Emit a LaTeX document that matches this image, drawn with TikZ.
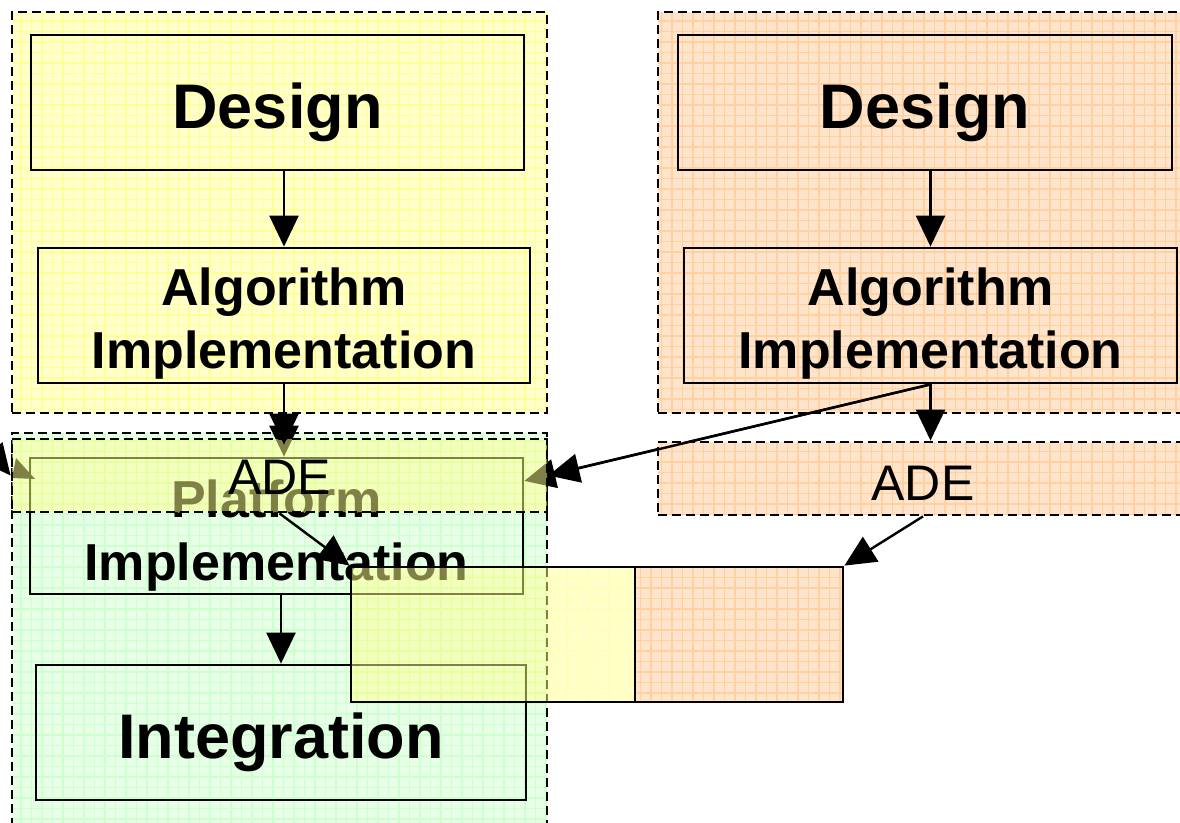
\documentclass[tikz,border=0pt]{standalone}
\usepackage{fontspec}
\setmainfont{Liberation Sans}
\usetikzlibrary{arrows.meta,calc}

\definecolor{yfill}{RGB}{255,255,204}
\definecolor{ygrid}{RGB}{255,255,150}
\definecolor{ofill}{RGB}{255,228,204}
\definecolor{ogrid}{RGB}{255,208,160}
\definecolor{gfill}{RGB}{230,255,230}
\definecolor{ggrid}{RGB}{206,255,206}
\definecolor{yover}{RGB}{255,255,150}
\definecolor{yovergrid}{RGB}{255,255,110}

% squared-paper patch: fill colour, grid colour, two corners
\newcommand{\gridpatch}[4]{%
  \begin{scope}
    \clip (#3) rectangle (#4);
    \fill[#1] (#3) rectangle (#4);
    \foreach \gx in {0,10.5,...,1200} \draw[#2, line width=1.3pt] (\gx,0) -- (\gx,840);
    \foreach \gy in {0,10.5,...,840} \draw[#2, line width=1.3pt] (0,\gy) -- (1200,\gy);
  \end{scope}}

\begin{document}
\begin{tikzpicture}[x=1pt, y=-1pt,
  box/.style={draw=black, line width=2.8pt, inner sep=0pt, align=center,
    font=\bfseries\fontsize{52}{63}\selectfont, text height=110pt, text depth=5pt},
  bigbox/.style={draw=black, line width=2.8pt, inner sep=0pt, align=center,
    font=\bfseries\fontsize{63}{75}\selectfont, text height=51pt, text depth=0pt},
  group/.style={draw=black, line width=2.8pt, dash pattern=on 9pt off 5pt, inner sep=0pt},
  adebox/.style={group, font=\fontsize{50}{60}\selectfont, text height=38pt, text depth=0pt},
  plain/.style={draw=black, line width=2.8pt, inner sep=0pt},
  arr/.style={-{Triangle[length=31pt,width=29pt]}, line width=2.4pt},
]
\useasboundingbox (0,0) rectangle (1180,822);

% background groups
\gridpatch{yfill}{ygrid}{12,12}{547,413}
\gridpatch{ofill}{ogrid}{658,12}{1200,413}
\gridpatch{gfill}{ggrid}{12,433}{547,840}
\node[group, minimum width=535pt, minimum height=401pt] (yellowG) at (279.5,212.5) {};
\node[group, minimum width=542pt, minimum height=401pt] (orangeG) at (929,212.5) {};
\node[group, minimum width=535pt, minimum height=407pt] (greenG) at (279.5,636.5) {};

% process boxes
\node[bigbox, minimum width=493pt, minimum height=135pt] (designL) at (277.5,102.5) {Design};
\node[box, minimum width=492pt, minimum height=135pt] (algoL) at (284,315.5) {Algorithm\\Implementation};
\node[bigbox, minimum width=494pt, minimum height=135pt] (designR) at (925,102.5) {Design};
\node[box, minimum width=493pt, minimum height=135pt] (algoR) at (930.5,315.5) {Algorithm\\Implementation};
\node[box, minimum width=493pt, minimum height=136pt, text height=112pt, text depth=4pt] (platform) at (276.5,526) {Platform\\Implementation};
\node[bigbox, minimum width=490pt, minimum height=135pt] (integ) at (281,732.5) {Integration};

% flow arrows
\draw[arr] (algoL.north |- designL.south) -- (algoL.north);
\draw[arr] (algoR.north |- designR.south) -- (algoR.north);
\draw[arr] (integ.north |- platform.south) -- (integ.north);
\draw[arr] (algoL.south) -- (algoL.south |- platform.north);
\coordinate (pE) at (intersection of algoR.south--{(547,475.5)} and platform.north east--platform.south east);
\draw[arr] (algoR.south) -- (pE);
\fill (16,458) -- (35,479) -- (12,478) -- cycle;

% translucent ADE layer over the platform stage
\begin{scope}[transparency group, opacity=0.5]
  \gridpatch{yover}{yovergrid}{12,439}{547,512}
\end{scope}
\node[adebox, minimum width=535pt, minimum height=73pt] (adeL) at (279.5,475.5) {ADE};

% ADE stage on the right
\gridpatch{ofill}{ogrid}{658,442}{1200,515}
\node[group, minimum width=542pt, minimum height=73pt] (adeR) at (929,478.5) {};
\node[font=\fontsize{50}{60}\selectfont, inner sep=0pt, text height=38pt, text depth=0pt] (adeRtext) at (923,481) {ADE};
\draw[arr] (algoR.south) -- (algoR.south |- adeR.north);

% combined block
\begin{scope}[transparency group, opacity=0.5]
  \gridpatch{yover}{yovergrid}{351,567}{635,702}
\end{scope}
\gridpatch{ofill}{ogrid}{635,567}{843,702}
\node[plain, minimum width=284pt, minimum height=135pt] (mL) at (493,634.5) {};
\node[plain, minimum width=208pt, minimum height=135pt] (mR) at (739,634.5) {};

% links into the ADE layer and the combined block
\coordinate (lin) at (-2,460);
\draw[arr, shorten >=-7pt] (algoL.south) -- (algoL.south |- adeL.north);
\draw[arr] (algoR.south) -- (adeL.east);
\draw[arr] (lin) -- (adeL.west);
\draw[arr] (adeL.south) -- (mL.north west);
\draw[arr] (adeR.south -| adeRtext.south) -- (mR.north east);
\end{tikzpicture}
\end{document}
